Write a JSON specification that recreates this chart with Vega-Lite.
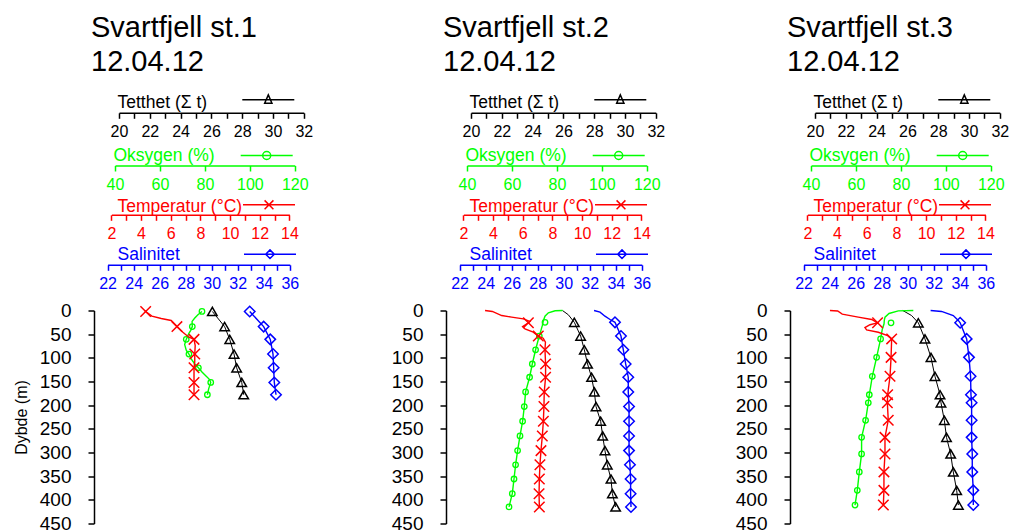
{
"$schema": "https://vega.github.io/schema/vega-lite/v6.json",
"background": "white",
"padding": {"left": 13, "top": 13.5, "right": 0, "bottom": 0},
"bounds": "flush",
"spacing": 132,
"config": {
  "font": "Liberation Sans",
  "view": {"stroke": null},
  "axis": {"grid": false, "labelOverlap": false, "labelFlush": false, "labelBound": false, "domainWidth": 1.5, "tickWidth": 1.5, "titleFontWeight": "normal", "titleFontSize": 16, "domainColor": "#000000", "tickColor": "#000000", "labelColor": "#000000", "titleColor": "#000000"},
  "axisX": {"labelFontSize": 16, "tickSize": 5.5, "labelPadding": 5.5, "titleAlign": "left", "titleBaseline": "alphabetic", "titleFontSize": 17.5},
  "axisY": {"labelFontSize": 19, "tickSize": 6, "labelPadding": 17, "titlePadding": 10, "titleFontSize": 16},
  "legend": {"padding": 0, "symbolSize": 2704, "symbolStrokeWidth": 1.5, "orient": "none", "labelOpacity": 0, "labelFontSize": 1},
  "title": {"fontSize": 29, "fontWeight": "normal", "anchor": "start", "frame": "group", "lineHeight": 34, "color": "#000000"}
},
"data": {"values": [
{"p":1,"v":"T","d":2,"x":26.06,"m":1},{"p":1,"v":"T","d":34,"x":26.86,"m":1},{"p":1,"v":"T","d":61,"x":27.19,"m":1},{"p":1,"v":"T","d":92,"x":27.47,"m":1},{"p":1,"v":"T","d":121,"x":27.64,"m":1},{"p":1,"v":"T","d":152,"x":27.97,"m":1},{"p":1,"v":"T","d":178,"x":28.10,"m":1},
{"p":1,"v":"O","d":2,"x":78.7,"m":1},{"p":1,"v":"O","d":9,"x":76.9,"m":0},{"p":1,"v":"O","d":16,"x":75.5,"m":0},{"p":1,"v":"O","d":23,"x":74.3,"m":0},{"p":1,"v":"O","d":34,"x":74.4,"m":1},{"p":1,"v":"O","d":42,"x":73.7,"m":0},{"p":1,"v":"O","d":49,"x":72.8,"m":0},{"p":1,"v":"O","d":61,"x":71.7,"m":1},{"p":1,"v":"O","d":72,"x":71.0,"m":0},{"p":1,"v":"O","d":84,"x":71.7,"m":0},{"p":1,"v":"O","d":92,"x":72.9,"m":1},{"p":1,"v":"O","d":102,"x":73.9,"m":0},{"p":1,"v":"O","d":113,"x":75.5,"m":0},{"p":1,"v":"O","d":121,"x":77.1,"m":1},{"p":1,"v":"O","d":130,"x":78.7,"m":0},{"p":1,"v":"O","d":139,"x":80.6,"m":0},{"p":1,"v":"O","d":146,"x":82.1,"m":0},{"p":1,"v":"O","d":152,"x":82.6,"m":1},{"p":1,"v":"O","d":165,"x":81.7,"m":0},{"p":1,"v":"O","d":178,"x":81.1,"m":1},
{"p":1,"v":"C","d":0,"x":4.25,"m":0},{"p":1,"v":"C","d":2,"x":4.31,"m":1},{"p":1,"v":"C","d":12,"x":4.73,"m":0},{"p":1,"v":"C","d":17,"x":5.36,"m":0},{"p":1,"v":"C","d":21,"x":6.03,"m":0},{"p":1,"v":"C","d":34,"x":6.42,"m":1},{"p":1,"v":"C","d":46,"x":6.82,"m":0},{"p":1,"v":"C","d":56,"x":7.20,"m":0},{"p":1,"v":"C","d":61,"x":7.57,"m":1},{"p":1,"v":"C","d":74,"x":7.65,"m":0},{"p":1,"v":"C","d":92,"x":7.62,"m":1},{"p":1,"v":"C","d":108,"x":7.62,"m":0},{"p":1,"v":"C","d":121,"x":7.57,"m":1},{"p":1,"v":"C","d":152,"x":7.57,"m":1},{"p":1,"v":"C","d":178,"x":7.57,"m":1},
{"p":1,"v":"S","d":2,"x":32.92,"m":1},{"p":1,"v":"S","d":34,"x":33.99,"m":1},{"p":1,"v":"S","d":61,"x":34.50,"m":1},{"p":1,"v":"S","d":92,"x":34.71,"m":1},{"p":1,"v":"S","d":121,"x":34.76,"m":1},{"p":1,"v":"S","d":152,"x":34.81,"m":1},{"p":1,"v":"S","d":178,"x":34.94,"m":1},
{"p":2,"v":"T","d":0,"x":25.94,"m":0},{"p":2,"v":"T","d":9,"x":26.32,"m":0},{"p":2,"v":"T","d":25,"x":26.71,"m":1},{"p":2,"v":"T","d":54,"x":27.12,"m":1},{"p":2,"v":"T","d":83,"x":27.36,"m":1},{"p":2,"v":"T","d":113,"x":27.57,"m":1},{"p":2,"v":"T","d":141,"x":27.83,"m":1},{"p":2,"v":"T","d":172,"x":28.01,"m":1},{"p":2,"v":"T","d":203,"x":28.12,"m":1},{"p":2,"v":"T","d":234,"x":28.42,"m":1},{"p":2,"v":"T","d":265,"x":28.55,"m":1},{"p":2,"v":"T","d":296,"x":28.70,"m":1},{"p":2,"v":"T","d":326,"x":28.85,"m":1},{"p":2,"v":"T","d":356,"x":29.09,"m":1},{"p":2,"v":"T","d":387,"x":29.18,"m":1},{"p":2,"v":"T","d":415,"x":29.39,"m":1},
{"p":2,"v":"O","d":0,"x":82.54,"m":0},{"p":2,"v":"O","d":0.5,"x":79.2,"m":0},{"p":2,"v":"O","d":5,"x":76.2,"m":0},{"p":2,"v":"O","d":12,"x":74.7,"m":0},{"p":2,"v":"O","d":21,"x":74.0,"m":0},{"p":2,"v":"O","d":25,"x":74.71,"m":2},{"p":2,"v":"O","d":32,"x":73.5,"m":0},{"p":2,"v":"O","d":42,"x":72.9,"m":0},{"p":2,"v":"O","d":54,"x":72.17,"m":1},{"p":2,"v":"O","d":67,"x":71.4,"m":0},{"p":2,"v":"O","d":83,"x":70.52,"m":1},{"p":2,"v":"O","d":113,"x":69.05,"m":1},{"p":2,"v":"O","d":141,"x":67.85,"m":1},{"p":2,"v":"O","d":172,"x":66.07,"m":1},{"p":2,"v":"O","d":203,"x":65.49,"m":1},{"p":2,"v":"O","d":234,"x":64.74,"m":1},{"p":2,"v":"O","d":265,"x":63.58,"m":1},{"p":2,"v":"O","d":296,"x":62.51,"m":1},{"p":2,"v":"O","d":326,"x":61.62,"m":1},{"p":2,"v":"O","d":356,"x":60.91,"m":1},{"p":2,"v":"O","d":387,"x":60.15,"m":1},{"p":2,"v":"O","d":415,"x":58.69,"m":1},
{"p":2,"v":"C","d":0,"x":3.46,"m":0},{"p":2,"v":"C","d":2,"x":3.95,"m":0},{"p":2,"v":"C","d":10.6,"x":4.58,"m":0},{"p":2,"v":"C","d":14,"x":5.25,"m":0},{"p":2,"v":"C","d":17.6,"x":6.04,"m":0},{"p":2,"v":"C","d":23,"x":6.49,"m":0},{"p":2,"v":"C","d":26,"x":6.38,"m":1},{"p":2,"v":"C","d":34,"x":5.99,"m":0},{"p":2,"v":"C","d":38.7,"x":6.15,"m":0},{"p":2,"v":"C","d":45.8,"x":6.71,"m":0},{"p":2,"v":"C","d":54,"x":7.05,"m":1},{"p":2,"v":"C","d":58.5,"x":7.38,"m":0},{"p":2,"v":"C","d":67,"x":7.53,"m":0},{"p":2,"v":"C","d":83,"x":7.50,"m":1},{"p":2,"v":"C","d":113,"x":7.54,"m":1},{"p":2,"v":"C","d":141,"x":7.54,"m":1},{"p":2,"v":"C","d":172,"x":7.45,"m":1},{"p":2,"v":"C","d":203,"x":7.43,"m":1},{"p":2,"v":"C","d":234,"x":7.39,"m":1},{"p":2,"v":"C","d":265,"x":7.32,"m":1},{"p":2,"v":"C","d":296,"x":7.23,"m":1},{"p":2,"v":"C","d":326,"x":7.16,"m":1},{"p":2,"v":"C","d":356,"x":7.12,"m":1},{"p":2,"v":"C","d":387,"x":7.10,"m":1},{"p":2,"v":"C","d":415,"x":7.12,"m":1},
{"p":2,"v":"S","d":0,"x":32.33,"m":0},{"p":2,"v":"S","d":3.5,"x":32.79,"m":0},{"p":2,"v":"S","d":12,"x":33.17,"m":0},{"p":2,"v":"S","d":19,"x":33.56,"m":0},{"p":2,"v":"S","d":25,"x":33.94,"m":1},{"p":2,"v":"S","d":54,"x":34.40,"m":1},{"p":2,"v":"S","d":83,"x":34.58,"m":1},{"p":2,"v":"S","d":113,"x":34.76,"m":1},{"p":2,"v":"S","d":141,"x":34.96,"m":1},{"p":2,"v":"S","d":172,"x":34.96,"m":1},{"p":2,"v":"S","d":203,"x":35.02,"m":1},{"p":2,"v":"S","d":234,"x":35.02,"m":1},{"p":2,"v":"S","d":265,"x":35.02,"m":1},{"p":2,"v":"S","d":296,"x":35.02,"m":1},{"p":2,"v":"S","d":326,"x":35.09,"m":1},{"p":2,"v":"S","d":356,"x":35.14,"m":1},{"p":2,"v":"S","d":387,"x":35.14,"m":1},{"p":2,"v":"S","d":415,"x":35.17,"m":1},
{"p":3,"v":"T","d":0,"x":25.7,"m":0},{"p":3,"v":"T","d":10.6,"x":26.27,"m":0},{"p":3,"v":"T","d":26,"x":26.71,"m":1},{"p":3,"v":"T","d":60,"x":27.14,"m":1},{"p":3,"v":"T","d":99,"x":27.53,"m":1},{"p":3,"v":"T","d":139,"x":27.79,"m":1},{"p":3,"v":"T","d":178,"x":28.12,"m":1},{"p":3,"v":"T","d":195,"x":28.18,"m":1},{"p":3,"v":"T","d":232,"x":28.40,"m":1},{"p":3,"v":"T","d":268,"x":28.54,"m":1},{"p":3,"v":"T","d":303,"x":28.81,"m":1},{"p":3,"v":"T","d":341,"x":28.98,"m":1},{"p":3,"v":"T","d":380,"x":29.20,"m":1},{"p":3,"v":"T","d":411,"x":29.31,"m":1},
{"p":3,"v":"O","d":0,"x":85.52,"m":0},{"p":3,"v":"O","d":0.7,"x":78.84,"m":0},{"p":3,"v":"O","d":6.3,"x":74.71,"m":0},{"p":3,"v":"O","d":14,"x":72.93,"m":0},{"p":3,"v":"O","d":21,"x":72.61,"m":0},{"p":3,"v":"O","d":26,"x":75.60,"m":2},{"p":3,"v":"O","d":28,"x":72.5,"m":0},{"p":3,"v":"O","d":40,"x":71.7,"m":0},{"p":3,"v":"O","d":60,"x":70.97,"m":1},{"p":3,"v":"O","d":99,"x":69.19,"m":1},{"p":3,"v":"O","d":139,"x":67.27,"m":1},{"p":3,"v":"O","d":178,"x":65.94,"m":1},{"p":3,"v":"O","d":195,"x":65.49,"m":1},{"p":3,"v":"O","d":232,"x":64.29,"m":1},{"p":3,"v":"O","d":268,"x":62.51,"m":1},{"p":3,"v":"O","d":303,"x":62.51,"m":1},{"p":3,"v":"O","d":341,"x":61.49,"m":1},{"p":3,"v":"O","d":380,"x":60.60,"m":1},{"p":3,"v":"O","d":411,"x":59.58,"m":1},
{"p":3,"v":"C","d":0,"x":3.52,"m":0},{"p":3,"v":"C","d":1,"x":4.04,"m":0},{"p":3,"v":"C","d":7.7,"x":4.35,"m":0},{"p":3,"v":"C","d":14,"x":5.43,"m":0},{"p":3,"v":"C","d":19,"x":6.33,"m":0},{"p":3,"v":"C","d":26,"x":6.73,"m":1},{"p":3,"v":"C","d":30,"x":6.22,"m":0},{"p":3,"v":"C","d":36,"x":5.88,"m":0},{"p":3,"v":"C","d":41,"x":5.99,"m":0},{"p":3,"v":"C","d":46,"x":6.78,"m":0},{"p":3,"v":"C","d":53,"x":7.41,"m":0},{"p":3,"v":"C","d":60,"x":7.68,"m":1},{"p":3,"v":"C","d":99,"x":7.64,"m":1},{"p":3,"v":"C","d":139,"x":7.57,"m":1},{"p":3,"v":"C","d":178,"x":7.41,"m":1},{"p":3,"v":"C","d":195,"x":7.39,"m":1},{"p":3,"v":"C","d":232,"x":7.45,"m":1},{"p":3,"v":"C","d":268,"x":7.23,"m":1},{"p":3,"v":"C","d":303,"x":7.23,"m":1},{"p":3,"v":"C","d":341,"x":7.16,"m":1},{"p":3,"v":"C","d":380,"x":7.16,"m":1},{"p":3,"v":"C","d":411,"x":7.12,"m":1},
{"p":3,"v":"S","d":0,"x":31.76,"m":0},{"p":3,"v":"S","d":2,"x":32.60,"m":0},{"p":3,"v":"S","d":10.6,"x":33.50,"m":0},{"p":3,"v":"S","d":21,"x":33.89,"m":0},{"p":3,"v":"S","d":26,"x":34.03,"m":1},{"p":3,"v":"S","d":60,"x":34.53,"m":1},{"p":3,"v":"S","d":99,"x":34.71,"m":1},{"p":3,"v":"S","d":139,"x":34.83,"m":1},{"p":3,"v":"S","d":178,"x":34.86,"m":1},{"p":3,"v":"S","d":195,"x":34.91,"m":1},{"p":3,"v":"S","d":232,"x":34.91,"m":1},{"p":3,"v":"S","d":268,"x":34.91,"m":1},{"p":3,"v":"S","d":303,"x":34.96,"m":1},{"p":3,"v":"S","d":341,"x":34.96,"m":1},{"p":3,"v":"S","d":380,"x":35.04,"m":1},{"p":3,"v":"S","d":411,"x":35.04,"m":1}
]},
"resolve": {"scale": {"color": "independent"}, "legend": {"color": "independent"}},
"hconcat": [
{
  "width": 219.7, "height": 213,
  "title": {"text": ["Svartfjell st.1", "12.04.12"], "dx": -3, "offset": -4},
  "transform": [{"filter": "datum.p == 1"}],
  "resolve": {"scale": {"x": "independent", "color": "independent"}, "axis": {"x": "independent"}, "legend": {"color": "independent"}},
  "layer": [
    {"transform": [{"filter": "datum.v == 'T'"}],
     "encoding": {
       "x": {"field": "x", "type": "quantitative", "scale": {"domain": [18.377, 32.643], "nice": false, "zero": false},
             "axis": {"orient": "bottom", "offset": -410.7, "values": [20,21,22,23,24,25,26,27,28,29,30,31,32], "labelExpr": "datum.value % 2 == 0 ? datum.label : ''", "domainDash": [0,25,184.8,1000], "title": "Tetthet (Σ t)", "titleX": 23, "titleY": -5}},
       "y": {"field": "d", "type": "quantitative", "scale": {"domain": [0,450], "reverse": true, "nice": false, "zero": false}, "axis": {"values": [0,50,100,150,200,250,300,350,400,450], "title": "Dybde (m)"}},
       "color": {"datum": "Tetthet", "scale": {"range": ["#000000"]}, "legend": {"legendX": 147.3, "legendY": -237.7, "labelExpr": "''", "symbolType": "M-1,0L1,0M0,-0.19L0.14,0.135L-0.14,0.135Z"}}
     },
     "layer": [
       {"transform": [{"filter": "datum.m < 2"}], "mark": {"type": "line", "strokeWidth": 1}, "encoding": {"order": {"field": "d"}}},
       {"transform": [{"filter": "datum.m > 0"}], "mark": {"type": "point", "shape": "triangle-up", "size": 90, "filled": false, "strokeWidth": 1.5, "opacity": 1}}
     ]},
    {"transform": [{"filter": "datum.v == 'O'"}],
     "encoding": {
       "x": {"field": "x", "type": "quantitative", "scale": {"domain": [30.656, 128.41], "nice": false, "zero": false},
             "axis": {"orient": "bottom", "offset": -358, "values": [40,60,80,100,120], "domainDash": [0,21,179.8,1000], "title": "Oksygen (%)", "titleX": 19, "titleY": -5, "labelColor": "#00FF00", "tickColor": "#00FF00", "domainColor": "#00FF00", "titleColor": "#00FF00"}},
       "y": {"field": "d", "type": "quantitative", "scale": {"domain": [0,450], "reverse": true, "nice": false, "zero": false}, "axis": {"values": [0,50,100,150,200,250,300,350,400,450], "title": "Dybde (m)"}},
       "color": {"datum": "Oksygen", "scale": {"range": ["#00FF00"]}, "legend": {"legendX": 145.7, "legendY": -182, "labelExpr": "''", "symbolType": "M-1,0L1,0M0.154,0A0.154,0.154,0,1,1,-0.154,0A0.154,0.154,0,1,1,0.154,0"}}
     },
     "layer": [
       {"transform": [{"filter": "datum.m < 2"}], "mark": {"type": "line", "strokeWidth": 1.4}, "encoding": {"order": {"field": "d"}}},
       {"transform": [{"filter": "datum.m > 0"}], "mark": {"type": "point", "shape": "circle", "size": 30, "filled": false, "strokeWidth": 1.3, "opacity": 1}}
     ]},
    {"transform": [{"filter": "datum.v == 'C'"}],
     "encoding": {
       "x": {"field": "x", "type": "quantitative", "scale": {"domain": [0.827, 15.639], "nice": false, "zero": false},
             "axis": {"orient": "bottom", "offset": -308.7, "values": [2,3,4,5,6,7,8,9,10,11,12,13,14], "labelExpr": "datum.value % 2 == 0 ? datum.label : ''", "domainDash": [0,17.4,178,1000], "title": "Temperatur (°C)", "titleX": 23, "titleY": -3, "labelColor": "#FF0000", "tickColor": "#FF0000", "domainColor": "#FF0000", "titleColor": "#FF0000"}},
       "y": {"field": "d", "type": "quantitative", "scale": {"domain": [0,450], "reverse": true, "nice": false, "zero": false}, "axis": {"values": [0,50,100,150,200,250,300,350,400,450], "title": "Dybde (m)"}},
       "color": {"datum": "Temperatur", "scale": {"range": ["#FF0000"]}, "legend": {"legendX": 148, "legendY": -132.7, "labelExpr": "''", "symbolType": "M-1,0L1,0M-0.17,-0.17L0.17,0.17M-0.17,0.17L0.17,-0.17"}}
     },
     "layer": [
       {"transform": [{"filter": "datum.m < 2"}], "mark": {"type": "line", "strokeWidth": 1.4}, "encoding": {"order": {"field": "d"}}},
       {"transform": [{"filter": "datum.m > 0"}], "mark": {"type": "point", "shape": "M-1,-1L1,1M-1,1L1,-1", "size": 110, "filled": false, "strokeWidth": 1.5, "opacity": 1}}
     ]},
    {"transform": [{"filter": "datum.v == 'S'"}],
     "encoding": {
       "x": {"field": "x", "type": "quantitative", "scale": {"domain": [20.955, 37.837], "nice": false, "zero": false},
             "axis": {"orient": "bottom", "offset": -258.7, "values": [22,23,24,25,26,27,28,29,30,31,32,33,34,35,36], "labelExpr": "datum.value % 2 == 0 ? datum.label : ''", "domainDash": [0,13.6,182.2,1000], "title": "Salinitet", "titleX": 23, "titleY": -5, "labelColor": "#0000FF", "tickColor": "#0000FF", "domainColor": "#0000FF", "titleColor": "#0000FF"}},
       "y": {"field": "d", "type": "quantitative", "scale": {"domain": [0,450], "reverse": true, "nice": false, "zero": false}, "axis": {"values": [0,50,100,150,200,250,300,350,400,450], "title": "Dybde (m)"}},
       "color": {"datum": "Salinitet", "scale": {"range": ["#0000FF"]}, "legend": {"legendX": 149, "legendY": -83.3, "labelExpr": "''", "symbolType": "M-1,0L1,0M-0.165,0L0,-0.165L0.165,0L0,0.165Z"}}
     },
     "layer": [
       {"transform": [{"filter": "datum.m < 2"}], "mark": {"type": "line", "strokeWidth": 1.4}, "encoding": {"order": {"field": "d"}}},
       {"transform": [{"filter": "datum.m > 0"}], "mark": {"type": "point", "shape": "diamond", "size": 110, "filled": false, "strokeWidth": 1.5, "opacity": 1}}
     ]}
  ]
},
{
  "width": 212, "height": 213,
  "title": {"text": ["Svartfjell st.2", "12.04.12"], "dx": -3, "offset": -4},
  "transform": [{"filter": "datum.p == 2"}],
  "resolve": {"scale": {"x": "independent", "color": "independent"}, "axis": {"x": "independent"}, "legend": {"color": "independent"}},
  "layer": [
    {"transform": [{"filter": "datum.v == 'T'"}],
     "encoding": {
       "x": {"field": "x", "type": "quantitative", "scale": {"domain": [18.377, 32.143], "nice": false, "zero": false},
             "axis": {"orient": "bottom", "offset": -410.7, "values": [20,21,22,23,24,25,26,27,28,29,30,31,32], "labelExpr": "datum.value % 2 == 0 ? datum.label : ''", "domainDash": [0,25,184.8,1000], "title": "Tetthet (Σ t)", "titleX": 23, "titleY": -5}},
       "y": {"field": "d", "type": "quantitative", "scale": {"domain": [0,450], "reverse": true, "nice": false, "zero": false}, "axis": {"values": [0,50,100,150,200,250,300,350,400,450], "title": null}},
       "color": {"datum": "Tetthet", "scale": {"range": ["#000000"]}, "legend": {"legendX": 147.3, "legendY": -237.7, "labelExpr": "''", "symbolType": "M-1,0L1,0M0,-0.19L0.14,0.135L-0.14,0.135Z"}}
     },
     "layer": [
       {"transform": [{"filter": "datum.m < 2"}], "mark": {"type": "line", "strokeWidth": 1}, "encoding": {"order": {"field": "d"}}},
       {"transform": [{"filter": "datum.m > 0"}], "mark": {"type": "point", "shape": "triangle-up", "size": 90, "filled": false, "strokeWidth": 1.5, "opacity": 1}}
     ]},
    {"transform": [{"filter": "datum.v == 'O'"}],
     "encoding": {
       "x": {"field": "x", "type": "quantitative", "scale": {"domain": [30.656, 124.98], "nice": false, "zero": false},
             "axis": {"orient": "bottom", "offset": -358, "values": [40,60,80,100,120], "domainDash": [0,21,179.8,1000], "title": "Oksygen (%)", "titleX": 19, "titleY": -5, "labelColor": "#00FF00", "tickColor": "#00FF00", "domainColor": "#00FF00", "titleColor": "#00FF00"}},
       "y": {"field": "d", "type": "quantitative", "scale": {"domain": [0,450], "reverse": true, "nice": false, "zero": false}, "axis": {"values": [0,50,100,150,200,250,300,350,400,450], "title": null}},
       "color": {"datum": "Oksygen", "scale": {"range": ["#00FF00"]}, "legend": {"legendX": 145.7, "legendY": -182, "labelExpr": "''", "symbolType": "M-1,0L1,0M0.154,0A0.154,0.154,0,1,1,-0.154,0A0.154,0.154,0,1,1,0.154,0"}}
     },
     "layer": [
       {"transform": [{"filter": "datum.m < 2"}], "mark": {"type": "line", "strokeWidth": 1.4}, "encoding": {"order": {"field": "d"}}},
       {"transform": [{"filter": "datum.m > 0"}], "mark": {"type": "point", "shape": "circle", "size": 30, "filled": false, "strokeWidth": 1.3, "opacity": 1}}
     ]},
    {"transform": [{"filter": "datum.v == 'C'"}],
     "encoding": {
       "x": {"field": "x", "type": "quantitative", "scale": {"domain": [0.827, 15.119], "nice": false, "zero": false},
             "axis": {"orient": "bottom", "offset": -308.7, "values": [2,3,4,5,6,7,8,9,10,11,12,13,14], "labelExpr": "datum.value % 2 == 0 ? datum.label : ''", "domainDash": [0,17.4,178,1000], "title": "Temperatur (°C)", "titleX": 23, "titleY": -3, "labelColor": "#FF0000", "tickColor": "#FF0000", "domainColor": "#FF0000", "titleColor": "#FF0000"}},
       "y": {"field": "d", "type": "quantitative", "scale": {"domain": [0,450], "reverse": true, "nice": false, "zero": false}, "axis": {"values": [0,50,100,150,200,250,300,350,400,450], "title": null}},
       "color": {"datum": "Temperatur", "scale": {"range": ["#FF0000"]}, "legend": {"legendX": 148, "legendY": -132.7, "labelExpr": "''", "symbolType": "M-1,0L1,0M-0.17,-0.17L0.17,0.17M-0.17,0.17L0.17,-0.17"}}
     },
     "layer": [
       {"transform": [{"filter": "datum.m < 2"}], "mark": {"type": "line", "strokeWidth": 1.4}, "encoding": {"order": {"field": "d"}}},
       {"transform": [{"filter": "datum.m > 0"}], "mark": {"type": "point", "shape": "M-1,-1L1,1M-1,1L1,-1", "size": 110, "filled": false, "strokeWidth": 1.5, "opacity": 1}}
     ]},
    {"transform": [{"filter": "datum.v == 'S'"}],
     "encoding": {
       "x": {"field": "x", "type": "quantitative", "scale": {"domain": [20.955, 37.245], "nice": false, "zero": false},
             "axis": {"orient": "bottom", "offset": -258.7, "values": [22,23,24,25,26,27,28,29,30,31,32,33,34,35,36], "labelExpr": "datum.value % 2 == 0 ? datum.label : ''", "domainDash": [0,13.6,182.2,1000], "title": "Salinitet", "titleX": 23, "titleY": -5, "labelColor": "#0000FF", "tickColor": "#0000FF", "domainColor": "#0000FF", "titleColor": "#0000FF"}},
       "y": {"field": "d", "type": "quantitative", "scale": {"domain": [0,450], "reverse": true, "nice": false, "zero": false}, "axis": {"values": [0,50,100,150,200,250,300,350,400,450], "title": null}},
       "color": {"datum": "Salinitet", "scale": {"range": ["#0000FF"]}, "legend": {"legendX": 149, "legendY": -83.3, "labelExpr": "''", "symbolType": "M-1,0L1,0M-0.165,0L0,-0.165L0.165,0L0,0.165Z"}}
     },
     "layer": [
       {"transform": [{"filter": "datum.m < 2"}], "mark": {"type": "line", "strokeWidth": 1.4}, "encoding": {"order": {"field": "d"}}},
       {"transform": [{"filter": "datum.m > 0"}], "mark": {"type": "point", "shape": "diamond", "size": 110, "filled": false, "strokeWidth": 1.5, "opacity": 1}}
     ]}
  ]
},
{
  "width": 212, "height": 213,
  "title": {"text": ["Svartfjell st.3", "12.04.12"], "dx": -3, "offset": -4},
  "transform": [{"filter": "datum.p == 3"}],
  "resolve": {"scale": {"x": "independent", "color": "independent"}, "axis": {"x": "independent"}, "legend": {"color": "independent"}},
  "layer": [
    {"transform": [{"filter": "datum.v == 'T'"}],
     "encoding": {
       "x": {"field": "x", "type": "quantitative", "scale": {"domain": [18.377, 32.143], "nice": false, "zero": false},
             "axis": {"orient": "bottom", "offset": -410.7, "values": [20,21,22,23,24,25,26,27,28,29,30,31,32], "labelExpr": "datum.value % 2 == 0 ? datum.label : ''", "domainDash": [0,25,184.8,1000], "title": "Tetthet (Σ t)", "titleX": 23, "titleY": -5}},
       "y": {"field": "d", "type": "quantitative", "scale": {"domain": [0,450], "reverse": true, "nice": false, "zero": false}, "axis": {"values": [0,50,100,150,200,250,300,350,400,450], "title": null}},
       "color": {"datum": "Tetthet", "scale": {"range": ["#000000"]}, "legend": {"legendX": 147.3, "legendY": -237.7, "labelExpr": "''", "symbolType": "M-1,0L1,0M0,-0.19L0.14,0.135L-0.14,0.135Z"}}
     },
     "layer": [
       {"transform": [{"filter": "datum.m < 2"}], "mark": {"type": "line", "strokeWidth": 1}, "encoding": {"order": {"field": "d"}}},
       {"transform": [{"filter": "datum.m > 0"}], "mark": {"type": "point", "shape": "triangle-up", "size": 90, "filled": false, "strokeWidth": 1.5, "opacity": 1}}
     ]},
    {"transform": [{"filter": "datum.v == 'O'"}],
     "encoding": {
       "x": {"field": "x", "type": "quantitative", "scale": {"domain": [30.656, 124.98], "nice": false, "zero": false},
             "axis": {"orient": "bottom", "offset": -358, "values": [40,60,80,100,120], "domainDash": [0,21,179.8,1000], "title": "Oksygen (%)", "titleX": 19, "titleY": -5, "labelColor": "#00FF00", "tickColor": "#00FF00", "domainColor": "#00FF00", "titleColor": "#00FF00"}},
       "y": {"field": "d", "type": "quantitative", "scale": {"domain": [0,450], "reverse": true, "nice": false, "zero": false}, "axis": {"values": [0,50,100,150,200,250,300,350,400,450], "title": null}},
       "color": {"datum": "Oksygen", "scale": {"range": ["#00FF00"]}, "legend": {"legendX": 145.7, "legendY": -182, "labelExpr": "''", "symbolType": "M-1,0L1,0M0.154,0A0.154,0.154,0,1,1,-0.154,0A0.154,0.154,0,1,1,0.154,0"}}
     },
     "layer": [
       {"transform": [{"filter": "datum.m < 2"}], "mark": {"type": "line", "strokeWidth": 1.4}, "encoding": {"order": {"field": "d"}}},
       {"transform": [{"filter": "datum.m > 0"}], "mark": {"type": "point", "shape": "circle", "size": 30, "filled": false, "strokeWidth": 1.3, "opacity": 1}}
     ]},
    {"transform": [{"filter": "datum.v == 'C'"}],
     "encoding": {
       "x": {"field": "x", "type": "quantitative", "scale": {"domain": [0.827, 15.119], "nice": false, "zero": false},
             "axis": {"orient": "bottom", "offset": -308.7, "values": [2,3,4,5,6,7,8,9,10,11,12,13,14], "labelExpr": "datum.value % 2 == 0 ? datum.label : ''", "domainDash": [0,17.4,178,1000], "title": "Temperatur (°C)", "titleX": 23, "titleY": -3, "labelColor": "#FF0000", "tickColor": "#FF0000", "domainColor": "#FF0000", "titleColor": "#FF0000"}},
       "y": {"field": "d", "type": "quantitative", "scale": {"domain": [0,450], "reverse": true, "nice": false, "zero": false}, "axis": {"values": [0,50,100,150,200,250,300,350,400,450], "title": null}},
       "color": {"datum": "Temperatur", "scale": {"range": ["#FF0000"]}, "legend": {"legendX": 148, "legendY": -132.7, "labelExpr": "''", "symbolType": "M-1,0L1,0M-0.17,-0.17L0.17,0.17M-0.17,0.17L0.17,-0.17"}}
     },
     "layer": [
       {"transform": [{"filter": "datum.m < 2"}], "mark": {"type": "line", "strokeWidth": 1.4}, "encoding": {"order": {"field": "d"}}},
       {"transform": [{"filter": "datum.m > 0"}], "mark": {"type": "point", "shape": "M-1,-1L1,1M-1,1L1,-1", "size": 110, "filled": false, "strokeWidth": 1.5, "opacity": 1}}
     ]},
    {"transform": [{"filter": "datum.v == 'S'"}],
     "encoding": {
       "x": {"field": "x", "type": "quantitative", "scale": {"domain": [20.955, 37.245], "nice": false, "zero": false},
             "axis": {"orient": "bottom", "offset": -258.7, "values": [22,23,24,25,26,27,28,29,30,31,32,33,34,35,36], "labelExpr": "datum.value % 2 == 0 ? datum.label : ''", "domainDash": [0,13.6,182.2,1000], "title": "Salinitet", "titleX": 23, "titleY": -5, "labelColor": "#0000FF", "tickColor": "#0000FF", "domainColor": "#0000FF", "titleColor": "#0000FF"}},
       "y": {"field": "d", "type": "quantitative", "scale": {"domain": [0,450], "reverse": true, "nice": false, "zero": false}, "axis": {"values": [0,50,100,150,200,250,300,350,400,450], "title": null}},
       "color": {"datum": "Salinitet", "scale": {"range": ["#0000FF"]}, "legend": {"legendX": 149, "legendY": -83.3, "labelExpr": "''", "symbolType": "M-1,0L1,0M-0.165,0L0,-0.165L0.165,0L0,0.165Z"}}
     },
     "layer": [
       {"transform": [{"filter": "datum.m < 2"}], "mark": {"type": "line", "strokeWidth": 1.4}, "encoding": {"order": {"field": "d"}}},
       {"transform": [{"filter": "datum.m > 0"}], "mark": {"type": "point", "shape": "diamond", "size": 110, "filled": false, "strokeWidth": 1.5, "opacity": 1}}
     ]}
  ]
}
]
}
